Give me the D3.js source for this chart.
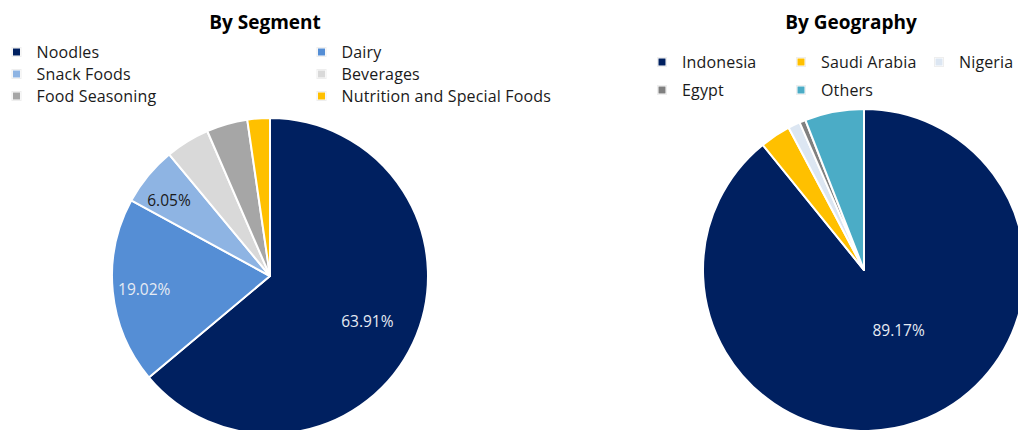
<!DOCTYPE html>
<html><head><meta charset="utf-8">
<script src="https://cdn.jsdelivr.net/npm/d3@7"></script>
<style>
html,body{margin:0;padding:0;background:#fff;overflow:hidden}
svg{display:block;font-family:"Open Sans",sans-serif}
</style></head>
<body>
<svg id="c" width="1018" height="430"></svg>
<script>
// Data
const segCategories = ["Noodles","Dairy","Snack Foods","Beverages","Food Seasoning","Nutrition and Special Foods"];
const segValues = [63.91, 19.02, 6.05, 4.52, 4.20, 2.30];
const segColors = ["#002060","#558ED5","#8EB4E3","#D9D9D9","#A6A6A6","#FFC000"];
const segShown = [true, true, true, false, false, false];

const geoCategories = ["Indonesia","Saudi Arabia","Nigeria","Egypt","Others"];
const geoValues = [89.17, 3.08, 1.20, 0.62, 5.93];
const geoColors = ["#002060","#FFC000","#DCE6F2","#808080","#4BACC6"];
const geoShown = [true, false, false, false, false];

const svg = d3.select("#c");

function drawPie(cfg){
  const g = svg.append("g").attr("transform",`translate(${cfg.cx},${cfg.cy})`);
  const pie = d3.pie().sort(null).value(d=>d.v);
  const data = cfg.cats.map((c,i)=>({c, v:cfg.vals[i], col:cfg.cols[i], show:cfg.shown[i], i}));
  const arcs = pie(data);
  const arc = d3.arc().innerRadius(0).outerRadius(cfg.r);
  g.selectAll("path").data(arcs).join("path")
    .attr("d",arc).attr("fill",d=>d.data.col)
    .attr("stroke","#fff").attr("stroke-width",2).attr("stroke-linejoin","round");
  const fmt = v=>v.toFixed(2)+"%";
  g.selectAll("text.lbl").data(arcs.filter(d=>d.data.show)).join("text")
    .attr("class","lbl")
    .each(function(d){
      const lp = cfg.labelPos[d.data.i];
      const a = (d.startAngle+d.endAngle)/2 + lp.da*Math.PI/180;
      const rr = cfg.r*lp.f;
      d3.select(this).attr("x", rr*Math.sin(a)).attr("y", -rr*Math.cos(a));
    })
    .attr("text-anchor","middle").attr("dominant-baseline","central")
    .attr("font-size",15.5)
    .attr("fill",d=>d.data.i===cfg.darkLabel ? "#1a1a1a" : "#E6EBF3")
    .text(d=>fmt(d.data.v));
}

function drawTitle(x, text){
  svg.append("text").attr("x",x).attr("y",28.5).attr("text-anchor","middle")
    .attr("font-size",19).attr("font-weight","bold").attr("fill","#000").text(text);
}

function drawLegend(items, cols, pos){
  items.forEach((name,i)=>{
    const p = pos(i);
    const g = svg.append("g").attr("transform",`translate(${p[0]},${p[1]})`);
    g.append("rect").attr("x",-4.5).attr("y",-4.5).attr("width",9).attr("height",9)
      .attr("fill","none").attr("stroke","#eee").attr("stroke-width",1);
    g.append("rect").attr("x",-3.5).attr("y",-3.5).attr("width",7).attr("height",7).attr("fill",cols[i]);
    g.append("text").attr("x",20).attr("y",0).attr("dominant-baseline","central")
      .attr("font-size",16).attr("letter-spacing",0.15).attr("fill","#1a1a1a").text(name);
  });
}

drawTitle(265, "By Segment");
drawTitle(851, "By Geography");

drawLegend(segCategories, segColors, i=>[ (i%2===0?16.5:321.5), 52 + Math.floor(i/2)*22 ]);
drawLegend(geoCategories, geoColors, i=>[ [662,801,939][i%3], 62 + Math.floor(i/3)*28 ]);

drawPie({cx:270, cy:276, r:158, cats:segCategories, vals:segValues, cols:segColors, shown:segShown,
  darkLabel:2,
  labelPos:{0:{f:0.68,da:0},1:{f:0.80,da:0},2:{f:0.80,da:-2.5}}});
drawPie({cx:864, cy:270, r:161, cats:geoCategories, vals:geoValues, cols:geoColors, shown:geoShown,
  darkLabel:-1,
  labelPos:{0:{f:0.43,da:-10.5}}});
</script>
</body></html>
